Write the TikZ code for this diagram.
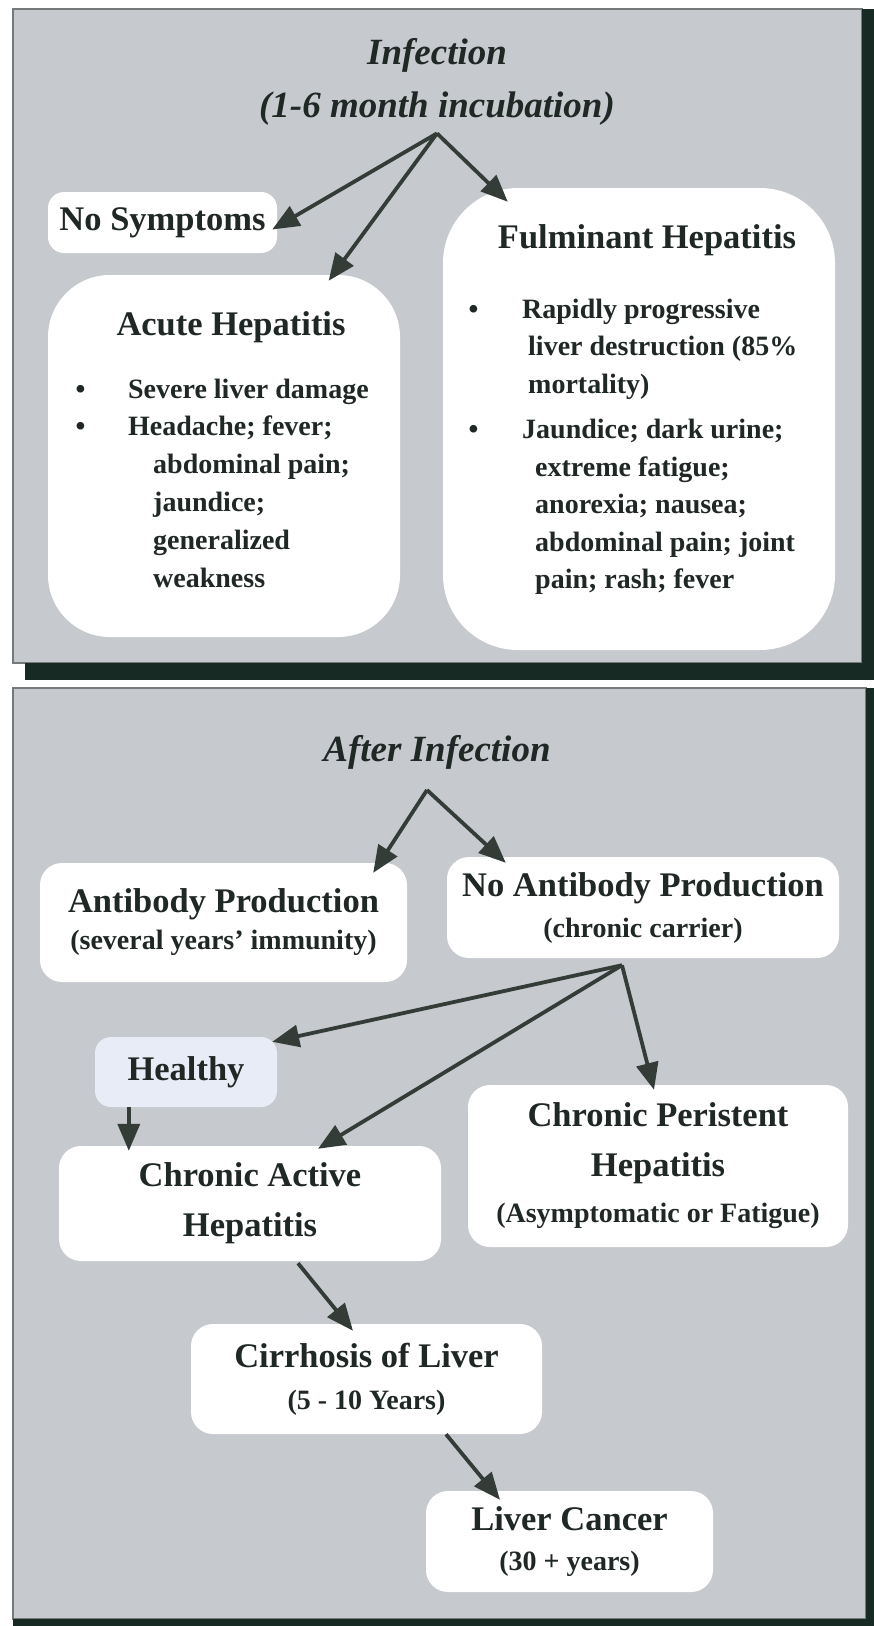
\documentclass[tikz,border=0pt]{standalone}
\usepackage{fontspec}
\setmainfont{Liberation Serif}
\usetikzlibrary{arrows.meta}

\definecolor{panelgray}{RGB}{198,201,205}
\definecolor{paneledge}{RGB}{118,121,121}
\definecolor{shadowdark}{RGB}{24,42,36}
\definecolor{inkdark}{RGB}{32,40,37}
\definecolor{arrowdark}{RGB}{52,60,56}
\definecolor{healthyblue}{RGB}{232,236,247}

\newcommand{\bul}[1]{\makebox[#1][l]{\textbullet}}
\newcommand{\headln}[1]{{\fontsize{34.5}{40}\selectfont #1}}

\begin{document}
\begin{tikzpicture}[x=1pt, y=-1pt,
  box/.style={fill=white, rounded corners=#1, inner sep=0pt, align=center, text=inkdark},
  titletext/.style={font=\fontsize{37}{53}\selectfont\bfseries\itshape, text=inkdark, inner sep=0pt},
  headtext/.style={font=\fontsize{34.5}{50}\selectfont\bfseries, text=inkdark},
  subtext/.style={font=\fontsize{28}{#1}\selectfont\bfseries},
  listtext/.style={font=\fontsize{28}{#1}\selectfont\bfseries, text=inkdark, align=left, inner sep=0pt, anchor=north west},
  flow/.style={draw=arrowdark, line width=3.8pt, -{Triangle[length=27pt,width=22pt]}}]
\fill[white] (0,0) rectangle (874,1626);
\useasboundingbox (0,0) rectangle (874,1626);
\fill[panelgray, draw=paneledge, line width=1.2pt] (13,9) rectangle (862,663);
\fill[shadowdark] (862,9) rectangle (874,680);
\fill[shadowdark] (25,663) rectangle (874,680);
\fill[panelgray, draw=paneledge, line width=1.2pt] (13,688) rectangle (866,1619);
\fill[shadowdark] (866,688) rectangle (874,1626);
\fill[shadowdark] (13,1619) rectangle (874,1626);

\node[titletext, anchor=north, align=center] (infection) at (437,27) {\strut Infection\\(1-6 month incubation)};
\node[box=16pt, headtext, minimum width=229pt, minimum height=61pt] (nosym) at (162.5,222.5) {No Symptoms};
\node[box=62pt, minimum width=352pt, minimum height=362pt] (acute) at (224,456) {};
\node[headtext, anchor=base, inner sep=0pt] (acutetitle) at (231,335) {Acute Hepatitis};
\node[listtext=37.8] (acutelist) at (75.5,371.5) {\strut\bul{52.5pt}Severe liver damage\\
\bul{52.5pt}Headache; fever;\\
\hspace*{77.5pt}abdominal pain;\\
\hspace*{77.5pt}jaundice;\\
\hspace*{77.5pt}generalized\\
\hspace*{77.5pt}weakness};
\node[box=75pt, minimum width=392pt, minimum height=462pt] (fulm) at (639,419) {};
\node[headtext, anchor=base, inner sep=0pt] (fulmtitle) at (647,248) {Fulminant Hepatitis};
\node[listtext=37.5] (fulmlist) at (468.5,291.75) {\strut\bul{53.5pt}Rapidly progressive\\
\hspace*{59.5pt}liver destruction (85\%\\
\hspace*{59.5pt}mortality)\\[8pt]
\bul{53.5pt}Jaundice; dark urine;\\
\hspace*{66.5pt}extreme fatigue;\\
\hspace*{66.5pt}anorexia; nausea;\\
\hspace*{66.5pt}abdominal pain; joint\\
\hspace*{66.5pt}pain; rash; fever};

\coordinate (infectfork) at ([yshift=-8pt]infection.south);
\draw[flow] (infectfork) -- ([xshift=-5pt,yshift=-7pt]nosym.east);
\draw[flow] (infectfork) -- ([yshift=-6pt]acute.60);
\draw[flow] (infectfork) -- ([xshift=65pt,yshift=-14pt]fulm.north west);

\node[titletext, anchor=base] (after) at (437,761) {After Infection};
\node[box=22pt, subtext=37, minimum width=367pt, minimum height=119pt] (antibody) at (223.5,922.5) {\headln{Antibody Production}\\(several years' immunity)};
\node[box=22pt, subtext=41, minimum width=392pt, minimum height=101pt] (noantibody) at (643,907.5) {\headln{No Antibody Production}\\(chronic carrier)};
\node[box=16pt, headtext, fill=healthyblue, minimum width=182pt, minimum height=70pt] (healthy) at (186,1072) {Healthy};
\node[box=22pt, headtext, minimum width=382pt, minimum height=115pt] (active) at (250,1203.5) {Chronic Active\\Hepatitis};
\node[box=22pt, subtext=50, minimum width=380pt, minimum height=162pt] (persistent) at (658,1166) {\headln{Chronic Peristent}\\\headln{Hepatitis}\\[-4pt](Asymptomatic or Fatigue)};
\node[box=22pt, subtext=42, minimum width=351pt, minimum height=110pt] (cirrhosis) at (366.5,1379) {\headln{Cirrhosis of Liver}\\(5 - 10 Years)};
\node[box=22pt, subtext=40, minimum width=287pt, minimum height=101pt] (cancer) at (569.5,1541.5) {\headln{Liver Cancer}\\(30 + years)};

\coordinate (afterfork) at (427,790);
\draw[flow] (afterfork) -- ([xshift=-34pt,yshift=-10pt]antibody.north east);
\draw[flow] (afterfork) -- ([xshift=59pt,yshift=-6pt]noantibody.north west);
\coordinate (carrierfork) at ([xshift=-21pt,yshift=-7pt]noantibody.south);
\draw[flow] (carrierfork) -- ([xshift=-5pt,yshift=-5pt]healthy.north east);
\draw[flow] (carrierfork) -- ([xshift=68pt,yshift=-3pt]active.north);
\draw[flow] (carrierfork) -- ([xshift=-4pt,yshift=-5pt]persistent.north);
\draw[flow] ([xshift=34pt]healthy.south west) -- ([xshift=70pt,yshift=-5pt]active.north west);
\draw[flow] ([xshift=48pt,yshift=-2pt]active.south) -- ([xshift=-13.5pt,yshift=-7pt]cirrhosis.north);
\draw[flow] ([xshift=79.5pt]cirrhosis.south) -- ([xshift=-69.5pt,yshift=-9pt]cancer.north);
\end{tikzpicture}
\end{document}
